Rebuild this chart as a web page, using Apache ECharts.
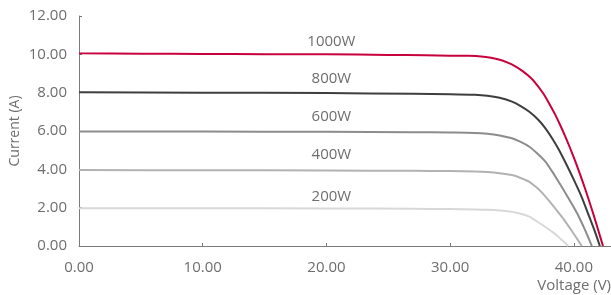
<!DOCTYPE html>
<html>
<head>
<meta charset="utf-8">
<script src="https://cdn.jsdelivr.net/npm/echarts@6/dist/echarts.min.js"></script>
<style>
  html, body { margin: 0; padding: 0; background: #fff; }
  #chart { width: 611px; height: 295px; }
</style>
</head>
<body>
<div id="chart"></div>
<script>
// I-V curves, [voltage, current] pairs
const curve1000 = [[0,10.05],[5,10.03],[10,10.02],[15,10.01],[20,10.0],[25,9.97],[28,9.95],[30,9.93],[31.5,9.92],[32.5,9.89],[33.3,9.82],[34,9.72],[34.6,9.58],[35.2,9.4],[35.8,9.15],[36.4,8.84],[36.9,8.5],[37.5,7.98],[38,7.44],[38.5,6.84],[38.9,6.3],[39.3,5.72],[39.7,5.1],[40.1,4.44],[40.5,3.74],[40.9,3.0],[41.3,2.22],[41.7,1.4],[42,0.76],[42.35,0]];
const curve800  = [[0,8.02],[10,8.0],[20,7.98],[27,7.94],[30,7.92],[32,7.89],[33,7.84],[34,7.73],[35,7.53],[35.7,7.3],[36.4,7.0],[37.1,6.6],[37.7,6.14],[38.3,5.56],[38.8,5.01],[39.4,4.25],[40,3.45],[40.6,2.6],[41.2,1.6],[41.7,0.75],[42.1,0]];
const curve600  = [[0,5.97],[10,5.97],[20,5.96],[27,5.94],[30,5.92],[32,5.9],[33,5.86],[34,5.77],[35,5.62],[35.7,5.43],[36.4,5.18],[37,4.85],[37.7,4.4],[38.2,3.93],[38.7,3.42],[39.3,2.78],[39.9,2.12],[40.4,1.53],[40.9,0.84],[41.45,0]];
const curve400  = [[0,3.96],[10,3.95],[20,3.94],[27,3.92],[30,3.91],[32,3.89],[33,3.86],[34,3.8],[35,3.7],[35.7,3.55],[36.4,3.35],[36.9,3.1],[37.4,2.8],[38,2.35],[38.5,1.95],[39.2,1.38],[39.9,0.72],[40.64,0]];
const curve200  = [[0,1.97],[10,1.97],[20,1.96],[27,1.94],[30,1.93],[32,1.91],[33,1.89],[34,1.85],[35,1.78],[35.7,1.68],[36.4,1.53],[36.9,1.33],[37.4,1.12],[37.9,0.9],[38.5,0.62],[39,0.33],[39.55,0]];

const seriesNames = ['1000W', '800W', '600W', '400W', '200W'];
const seriesData = [curve1000, curve800, curve600, curve400, curve200];
const colors = ['#c8003c', '#3e3e3e', '#8c8c8c', '#b2b2b2', '#d8d8d8'];
// where the power labels sit (volts, amps)
const labelX = [20.4, 20.4, 20.4, 20.4, 20.4];
const labelY = [10.64, 8.71, 6.74, 4.75, 2.57];

const xTicks = [0, 10, 20, 30, 40];
const textColor = '#6e6e6e';
const font = 'Open Sans';

const chart = echarts.init(document.getElementById('chart'));

const series = seriesNames.map((name, i) => ({
  name: name,
  type: 'line',
  data: seriesData[i],
  showSymbol: false,
  smooth: 0.25,
  lineStyle: { color: colors[i], width: 2 },
  z: 10 - i,
  markPoint: {
    symbol: 'circle',
    symbolSize: 0,
    silent: true,
    label: {
      show: true,
      position: 'inside',
      formatter: name,
      color: textColor,
      fontFamily: font,
      fontSize: 15
    },
    data: [{ coord: [labelX[i], labelY[i]] }]
  }
}));

chart.setOption({
  animation: false,
  backgroundColor: '#fff',
  grid: { left: 79, right: 0, top: 16, bottom: 49, outerBoundsMode: 'none' },
  xAxis: {
    type: 'value',
    min: 0,
    max: 43,
    interval: 10,
    name: 'Voltage (V)',
    nameLocation: 'end',
    nameGap: 0,
    nameMoveOverlap: false,
    nameTextStyle: {
      color: textColor, fontFamily: font, fontSize: 15,
      align: 'right', verticalAlign: 'top', padding: [32, 0, 0, 0]
    },
    axisLine: { lineStyle: { color: '#7a7a7a', width: 1 } },
    axisTick: { show: true, inside: true, length: 3, customValues: xTicks, lineStyle: { color: '#7a7a7a' } },
    axisLabel: {
      customValues: xTicks,
      formatter: v => v.toFixed(2),
      color: textColor, fontFamily: font, fontSize: 15, margin: 14
    },
    splitLine: { show: false }
  },
  yAxis: {
    type: 'value',
    min: 0,
    max: 12,
    interval: 2,
    name: 'Current (A)',
    nameLocation: 'middle',
    nameGap: 57,
    nameRotate: 90,
    nameMoveOverlap: false,
    nameTextStyle: { color: textColor, fontFamily: font, fontSize: 14 },
    axisLine: { show: true, lineStyle: { color: '#7a7a7a', width: 1 } },
    axisTick: { show: true, inside: true, length: 3, lineStyle: { color: '#7a7a7a' } },
    axisLabel: {
      formatter: v => v.toFixed(2),
      color: textColor, fontFamily: font, fontSize: 15, margin: 12
    },
    splitLine: { show: false }
  },
  series: series
});
</script>
</body>
</html>
